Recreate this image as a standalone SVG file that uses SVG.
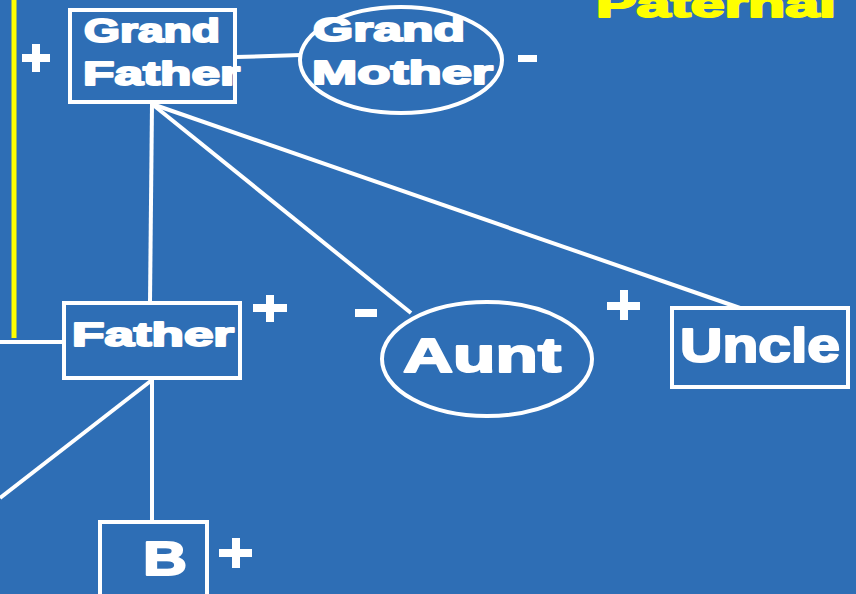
<svg xmlns="http://www.w3.org/2000/svg" width="856" height="594" viewBox="0 0 856 594">
<style>
.bg{fill:#2E6EB5}
.box{fill:none;stroke:#FFFFFF;stroke-width:4}
.conn line{stroke:#FFFFFF;stroke-width:4}
.t{font-family:"Liberation Sans",Arial,sans-serif;font-weight:bold;fill:#FFFFFF;stroke:#FFFFFF;stroke-width:2;stroke-linejoin:round}
.sign{fill:#FFFFFF}
.yl{stroke:#FFFF00;stroke-width:5}
.pat{font-family:"Liberation Sans",Arial,sans-serif;font-weight:bold;fill:#FFFF00;stroke:#FFFF00;stroke-width:2;stroke-linejoin:round}
</style>
<rect class="bg" x="0" y="0" width="856" height="594"/>
<line class="yl" x1="14" y1="0" x2="14" y2="338"/>
<text class="pat" x="596" y="17" font-size="36" textLength="240" lengthAdjust="spacingAndGlyphs">Paternal</text>
<g class="conn" id="connectors">
<line x1="236" y1="57" x2="301" y2="55"/>
<line x1="152" y1="104" x2="150" y2="302"/>
<line x1="152" y1="104" x2="411" y2="313"/>
<line x1="152" y1="104" x2="740" y2="308"/>
<line x1="0" y1="342" x2="64" y2="342"/>
<line x1="152" y1="380" x2="0" y2="498"/>
<line x1="152" y1="380" x2="152" y2="522"/>
</g>
<g id="grandfather">
<rect class="box" x="70" y="10" width="165" height="92"/>
<text class="t" x="84" y="42" font-size="34" textLength="136" lengthAdjust="spacingAndGlyphs">Grand</text>
<text class="t" x="83" y="85" font-size="34" textLength="157" lengthAdjust="spacingAndGlyphs">Father</text>
<rect class="sign" x="22" y="54" width="28" height="8"/>
<rect class="sign" x="32" y="44" width="8" height="28"/>
</g>
<g id="grandmother">
<ellipse class="box" cx="401" cy="60" rx="101" ry="53"/>
<text class="t" x="313" y="41" font-size="34" textLength="152" lengthAdjust="spacingAndGlyphs">Grand</text>
<text class="t" x="312" y="84" font-size="34" textLength="181" lengthAdjust="spacingAndGlyphs">Mother</text>
<rect class="sign" x="518" y="55" width="19" height="7"/>
</g>
<g id="father">
<rect class="box" x="64" y="303" width="176" height="75"/>
<text class="t" x="72" y="346" font-size="33" textLength="162" lengthAdjust="spacingAndGlyphs">Father</text>
<rect class="sign" x="253" y="304" width="34" height="8"/>
<rect class="sign" x="266" y="295" width="8" height="27"/>
</g>
<g id="aunt">
<ellipse class="box" cx="487" cy="359" rx="105" ry="57"/>
<text class="t" x="403" y="372" font-size="48" textLength="158" lengthAdjust="spacingAndGlyphs">Aunt</text>
<rect class="sign" x="355" y="309" width="22" height="8"/>
</g>
<g id="uncle">
<rect class="box" x="672" y="308" width="176" height="79"/>
<text class="t" x="680" y="362" font-size="48" textLength="160" lengthAdjust="spacingAndGlyphs">Uncle</text>
<rect class="sign" x="607" y="302" width="33" height="8"/>
<rect class="sign" x="620" y="290" width="8" height="30"/>
</g>
<g id="b">
<rect class="box" x="100" y="522" width="107" height="80"/>
<text class="t" x="143" y="575" font-size="48" textLength="44" lengthAdjust="spacingAndGlyphs">B</text>
<rect class="sign" x="219" y="549" width="33" height="8"/>
<rect class="sign" x="232" y="538" width="8" height="30"/>
</g>
</svg>
